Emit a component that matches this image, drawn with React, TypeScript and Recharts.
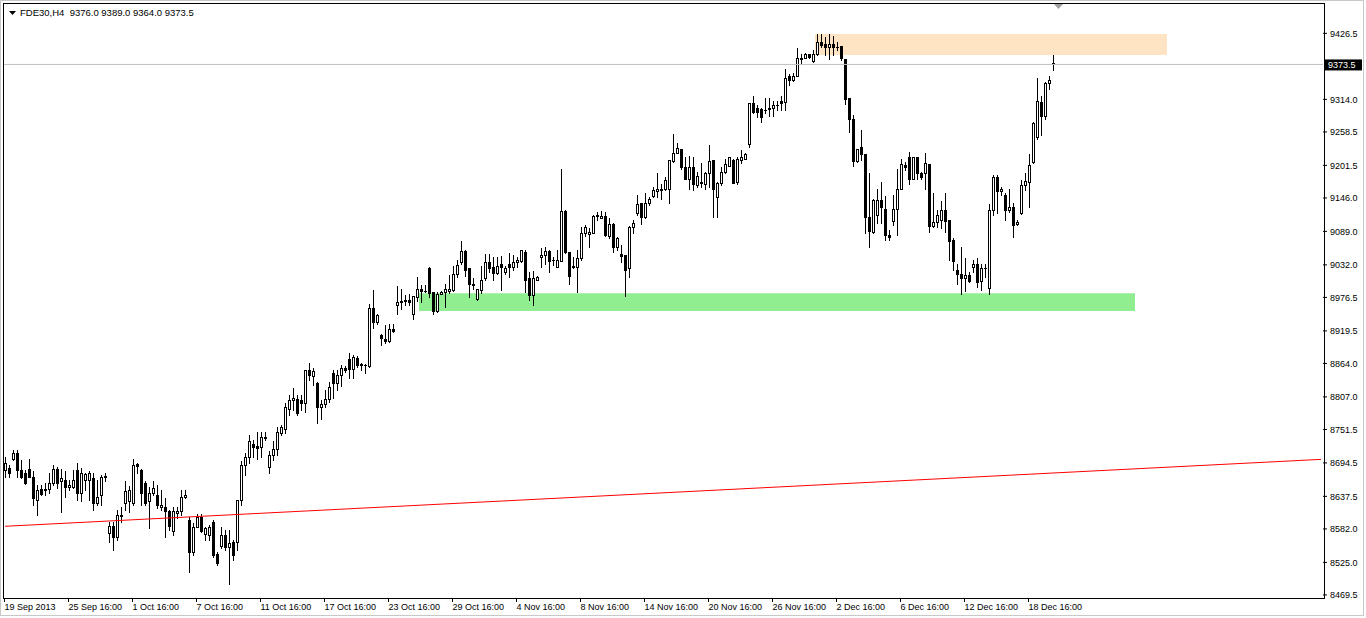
import React from "react";
import {
  ComposedChart,
  Bar,
  Line,
  XAxis,
  YAxis,
  ReferenceArea,
  ReferenceLine,
} from "recharts";

const FONT = "'Liberation Sans', Arial, sans-serif";
const symbol = "FDE30,H4";

// H4 candles, 19 Sep 2013 16:00 .. 20 Dec 2013 08:00
const open = [
  8682, 8685, 8702, 8711, 8683, 8677, 8684, 8671, 8631, 8650,
  8649, 8650, 8660, 8684, 8664, 8665, 8653, 8654, 8682, 8643,
  8665, 8666, 8668, 8626, 8640, 8671, 8575, 8587, 8568, 8604,
  8626, 8630, 8626, 8693, 8683, 8660, 8629, 8643, 8640, 8619,
  8620, 8612, 8579, 8609, 8612, 8636, 8597, 8542, 8586, 8602,
  8573, 8572, 8594, 8540, 8553, 8572, 8552, 8560, 8560, 8631,
  8691, 8704, 8727, 8723, 8722, 8737, 8688, 8708, 8719, 8746,
  8752, 8787, 8802, 8803, 8802, 8796, 8853, 8843, 8830, 8789,
  8795, 8803, 8847, 8830, 8844, 8857, 8871, 8854, 8874, 8863,
  8862, 8860, 8958, 8935, 8912, 8906, 8903, 8922, 8964, 8968,
  8971, 8972, 8948, 8978, 8990, 8987, 9026, 8985, 8954, 8983,
  8986, 8988, 8989, 9017, 9037, 9056, 9026, 9000, 8973, 8989,
  9009, 9037, 9029, 9018, 9033, 9019, 9034, 9028, 9037, 9039,
  9054, 9009, 8980, 9007, 9046, 9049, 9056, 9040, 9029, 9039,
  9124, 9054, 9030, 9029, 9043, 9087, 9084, 9087, 9115, 9112,
  9115, 9081, 9101, 9063, 9050, 9049, 9026, 9096, 9120, 9137,
  9114, 9137, 9150, 9158, 9160, 9162, 9162, 9209, 9223, 9229,
  9199, 9179, 9199, 9168, 9172, 9170, 9188, 9211, 9147, 9172,
  9191, 9200, 9211, 9174, 9211, 9213, 9238, 9307, 9299, 9297,
  9296, 9297, 9300, 9304, 9312, 9310, 9354, 9347, 9354, 9383,
  9385, 9391, 9380, 9391, 9411, 9408, 9404, 9408, 9404, 9405,
  9382, 9316, 9280, 9209, 9232, 9221, 9113, 9088, 9117, 9143,
  9128, 9083, 9107, 9128, 9162, 9202, 9215, 9179, 9215, 9189,
  9189, 9204, 9098, 9105, 9108, 9125, 9108, 9075, 9023, 9016,
  9009, 9015, 9029, 9033, 9005, 9026, 8992, 9125, 9182, 9157,
  9151, 9126, 9130, 9101, 9121, 9168, 9174, 9208, 9250, 9310,
  9286, 9342, 9376,
];

const high = [
  8705, 8691, 8717, 8717, 8700, 8683, 8702, 8680, 8657, 8657,
  8660, 8677, 8691, 8688, 8684, 8680, 8665, 8682, 8694, 8685,
  8677, 8680, 8677, 8665, 8674, 8677, 8594, 8594, 8614, 8620,
  8663, 8655, 8702, 8694, 8684, 8663, 8654, 8663, 8657, 8648,
  8634, 8614, 8620, 8620, 8648, 8648, 8603, 8592, 8608, 8608,
  8586, 8589, 8597, 8543, 8585, 8581, 8581, 8563, 8632, 8697,
  8711, 8742, 8734, 8748, 8748, 8748, 8714, 8731, 8756, 8759,
  8796, 8810, 8822, 8810, 8810, 8853, 8864, 8856, 8833, 8802,
  8819, 8833, 8853, 8853, 8861, 8859, 8881, 8878, 8877, 8865,
  8863, 8966, 8989, 8949, 8915, 8929, 8931, 8931, 8996, 8990,
  8981, 8982, 8979, 9012, 8998, 8998, 9029, 8985, 8985, 8987,
  9000, 9015, 9030, 9040, 9073, 9058, 9026, 9009, 8990, 9030,
  9051, 9051, 9046, 9046, 9047, 9030, 9053, 9049, 9046, 9058,
  9057, 9020, 9022, 9013, 9060, 9062, 9058, 9045, 9057, 9195,
  9125, 9054, 9045, 9057, 9096, 9100, 9094, 9117, 9122, 9124,
  9122, 9111, 9103, 9079, 9066, 9049, 9098, 9108, 9151, 9137,
  9154, 9148, 9165, 9188, 9170, 9182, 9211, 9255, 9239, 9229,
  9216, 9217, 9215, 9191, 9205, 9191, 9236, 9211, 9174, 9199,
  9213, 9216, 9212, 9215, 9228, 9222, 9308, 9319, 9304, 9299,
  9316, 9316, 9312, 9312, 9320, 9365, 9358, 9359, 9401, 9392,
  9393, 9392, 9398, 9426, 9426, 9421, 9426, 9422, 9412, 9405,
  9382, 9316, 9287, 9230, 9262, 9221, 9188, 9145, 9162, 9174,
  9149, 9091, 9151, 9196, 9213, 9208, 9225, 9216, 9216, 9191,
  9223, 9204, 9155, 9125, 9140, 9154, 9108, 9077, 9034, 9062,
  9043, 9020, 9041, 9043, 9034, 9033, 9136, 9185, 9185, 9165,
  9154, 9161, 9137, 9108, 9177, 9189, 9221, 9276, 9350, 9319,
  9344, 9353, 9389,
];

const low = [
  8671, 8671, 8700, 8671, 8669, 8658, 8670, 8623, 8606, 8640,
  8640, 8643, 8657, 8651, 8611, 8637, 8648, 8651, 8631, 8629,
  8648, 8631, 8614, 8623, 8623, 8663, 8560, 8546, 8563, 8594,
  8614, 8611, 8623, 8677, 8623, 8623, 8583, 8640, 8617, 8614,
  8568, 8580, 8572, 8600, 8606, 8634, 8509, 8538, 8585, 8577,
  8563, 8563, 8535, 8521, 8549, 8546, 8489, 8529, 8546, 8623,
  8674, 8694, 8705, 8702, 8705, 8734, 8677, 8699, 8708, 8742,
  8745, 8776, 8785, 8776, 8785, 8782, 8836, 8827, 8762, 8770,
  8790, 8799, 8805, 8819, 8826, 8850, 8839, 8839, 8858, 8853,
  8847, 8858, 8924, 8932, 8895, 8898, 8901, 8918, 8949, 8956,
  8964, 8963, 8939, 8971, 8969, 8986, 8978, 8949, 8952, 8982,
  8961, 8984, 8988, 9012, 9034, 9013, 8977, 8990, 8972, 8984,
  9006, 9020, 9006, 9017, 8989, 9017, 9012, 9024, 9029, 9037,
  8986, 8972, 8963, 9006, 9028, 9034, 9020, 9032, 9028, 9039,
  9052, 9000, 9026, 8986, 9040, 9081, 9063, 9086, 9108, 9111,
  9081, 9077, 9054, 9057, 9037, 8979, 9012, 9086, 9117, 9102,
  9111, 9134, 9148, 9148, 9145, 9160, 9137, 9208, 9222, 9196,
  9179, 9162, 9159, 9165, 9165, 9162, 9165, 9114, 9114, 9168,
  9188, 9200, 9171, 9170, 9205, 9213, 9233, 9290, 9284, 9276,
  9290, 9286, 9286, 9296, 9296, 9296, 9338, 9346, 9353, 9375,
  9384, 9385, 9378, 9390, 9404, 9390, 9382, 9390, 9398, 9381,
  9306, 9259, 9200, 9208, 9211, 9087, 9063, 9087, 9103, 9103,
  9075, 9074, 9100, 9083, 9161, 9193, 9170, 9178, 9178, 9179,
  9162, 9088, 9097, 9097, 9094, 9088, 9040, 9023, 9000, 8982,
  8988, 9003, 9020, 8995, 8989, 9012, 8983, 9117, 9121, 9151,
  9109, 9122, 9079, 9100, 9119, 9160, 9131, 9206, 9247, 9253,
  9280, 9331, 9364,
];

const close = [
  8694, 8677, 8711, 8683, 8671, 8660, 8671, 8634, 8648, 8642,
  8650, 8660, 8684, 8661, 8668, 8654, 8657, 8665, 8643, 8677,
  8676, 8677, 8626, 8637, 8671, 8673, 8587, 8568, 8606, 8605,
  8647, 8648, 8691, 8690, 8644, 8627, 8644, 8651, 8623, 8623,
  8612, 8587, 8612, 8613, 8636, 8640, 8542, 8585, 8602, 8579,
  8583, 8585, 8538, 8524, 8572, 8552, 8558, 8538, 8631, 8691,
  8705, 8731, 8721, 8720, 8738, 8738, 8708, 8719, 8748, 8755,
  8790, 8802, 8805, 8780, 8796, 8853, 8844, 8851, 8790, 8795,
  8803, 8824, 8830, 8845, 8857, 8853, 8854, 8875, 8861, 8861,
  8861, 8958, 8935, 8946, 8908, 8903, 8922, 8920, 8969, 8971,
  8972, 8969, 8979, 8990, 8987, 8987, 8984, 8954, 8983, 8986,
  8990, 8990, 9016, 9032, 9056, 9024, 9000, 8998, 8990, 9007,
  9037, 9026, 9018, 9030, 9029, 9026, 9028, 9037, 9041, 9057,
  9006, 8980, 9009, 9012, 9048, 9056, 9039, 9040, 9040, 9124,
  9054, 9013, 9028, 9043, 9087, 9097, 9088, 9115, 9117, 9116,
  9083, 9101, 9063, 9077, 9047, 9024, 9097, 9104, 9136, 9114,
  9137, 9145, 9159, 9161, 9162, 9177, 9211, 9223, 9231, 9198,
  9179, 9199, 9170, 9183, 9173, 9188, 9209, 9161, 9172, 9191,
  9204, 9215, 9172, 9213, 9216, 9221, 9307, 9293, 9293, 9284,
  9296, 9300, 9304, 9305, 9308, 9351, 9347, 9354, 9384, 9385,
  9391, 9387, 9391, 9412, 9407, 9404, 9408, 9403, 9404, 9384,
  9314, 9280, 9209, 9229, 9221, 9113, 9090, 9142, 9143, 9130,
  9083, 9079, 9128, 9162, 9204, 9199, 9179, 9215, 9189, 9181,
  9205, 9098, 9105, 9117, 9125, 9107, 9073, 9039, 9016, 9009,
  9015, 9005, 9033, 9003, 9026, 9026, 9125, 9182, 9157, 9161,
  9126, 9130, 9100, 9105, 9168, 9175, 9202, 9273, 9312, 9286,
  9342, 9347, 9373.5,
];

// bottom labels, one every 16 bars
const timeLabels = [
  "19 Sep 2013", "25 Sep 16:00", "1 Oct 16:00", "7 Oct 16:00", "11 Oct 16:00",
  "17 Oct 16:00", "23 Oct 16:00", "29 Oct 16:00", "4 Nov 16:00", "8 Nov 16:00",
  "14 Nov 16:00", "20 Nov 16:00", "26 Nov 16:00", "2 Dec 16:00", "6 Dec 16:00",
  "12 Dec 16:00", "18 Dec 16:00",
];
const LABEL_STEP = 16;

const priceTicks = [
  9426.5, 9314.0, 9258.5, 9201.5, 9146.0, 9089.0, 9032.0, 8976.5, 8919.5,
  8864.0, 8807.0, 8751.5, 8694.5, 8637.5, 8582.0, 8525.0, 8469.5,
];

// drawn objects
const supplyBars = [203, 290];
const supplyPrices = [9389.5, 9425.5];
const demandBars = [104, 282];
const demandPrices = [8953.5, 8983.5];
const trendPrices = [8586.5, 8700.5]; // at first and last slot

const SLOTS = 330; // bars that fit in the window, incl. right shift
const Y_MIN = 8466;
const Y_MAX = 9476.5;

const last = close.length - 1;

const rows = Array.from({ length: SLOTS }, (_, i) => {
  const has = i <= last;
  return {
    i,
    range: has ? [low[i], high[i]] : null,
    o: has ? open[i] : null,
    h: has ? high[i] : null,
    l: has ? low[i] : null,
    c: has ? close[i] : null,
    trend: i === 0 ? trendPrices[0] : i === SLOTS - 1 ? trendPrices[1] : null,
  };
});

const Candle = (props: any) => {
  const { x, y, width, height, payload } = props;
  if (!payload || payload.range == null) return null;
  const { o, h, l, c } = payload;
  const top = Math.min(y, y + height);
  const span = Math.abs(height);
  const k = h === l ? 0 : span / (h - l);
  const yOf = (v: number) => Math.round(top + (h - v) * k);
  const cx = Math.floor(x + width / 2);
  const yo = yOf(o);
  const yc = yOf(c);
  const bTop = Math.min(yo, yc);
  const bBot = Math.max(yo, yc);
  return (
    <g shapeRendering="crispEdges">
      <line
        x1={cx + 0.5}
        x2={cx + 0.5}
        y1={yOf(h)}
        y2={yOf(l) + 1}
        stroke="#000"
      />
      {bBot - bTop < 1 ? (
        <line x1={cx - 1} x2={cx + 2} y1={bTop + 0.5} y2={bTop + 0.5} stroke="#000" />
      ) : (
        <rect
          x={cx - 0.5}
          y={bTop + 0.5}
          width={2}
          height={bBot - bTop}
          fill={c > o ? "#fff" : "#000"}
          stroke="#000"
        />
      )}
    </g>
  );
};

const TimeTick = (props: any) => {
  const { x, y, payload } = props;
  const label = timeLabels[payload.value / LABEL_STEP];
  if (!label) return <g />;
  const tx = Math.floor(x) - 0.5;
  return (
    <g>
      <line x1={tx} x2={tx} y1={y + 1} y2={y + 5} stroke="#000" shapeRendering="crispEdges" />
      <text x={tx} y={y + 13} fontSize={9} fontFamily={FONT} fill="#000">
        {label}
      </text>
    </g>
  );
};

const PriceTag = (props: any) => {
  const vb = props.viewBox || {};
  const x = vb.x + vb.width + 2;
  const y = vb.y;
  return (
    <g>
      <rect x={x} y={y - 5} width={37} height={11} fill="#000" />
      <text x={x + 3} y={y + 3.5} fontSize={9} fontFamily={FONT} fill="#fff">
        {close[last].toFixed(1)}
      </text>
    </g>
  );
};

export default function App() {
  const header = `${symbol}  ${open[last].toFixed(1)} ${high[last].toFixed(1)} ${low[last].toFixed(1)} ${close[last].toFixed(1)}`;
  return (
    <div
      style={{
        position: "absolute",
        left: 0,
        top: 0,
        width: 1366,
        height: 618,
        background: "#fff",
        overflow: "hidden",
      }}
    >
      <ComposedChart
        width={1366}
        height={618}
        data={rows}
        margin={{ top: 4, right: 0, bottom: 0, left: 3 }}
        barCategoryGap={0}
        barGap={0}
      >
        <XAxis
          dataKey="i"
          type="category"
          interval={LABEL_STEP - 1}
          height={21}
          tickSize={0}
          tickMargin={0}
          axisLine={false}
          tickLine={false}
          tick={<TimeTick />}
        />
        <YAxis
          orientation="right"
          type="number"
          domain={[Y_MIN, Y_MAX]}
          allowDataOverflow
          ticks={priceTicks}
          interval={0}
          width={43}
          axisLine={false}
          tickLine={{ stroke: "#000" }}
          tickSize={4}
          tickMargin={3}
          tickFormatter={(v: number) => v.toFixed(1)}
          tick={{ fontSize: 9, fill: "#000", fontFamily: FONT }}
        />
        <ReferenceArea
          x1={supplyBars[0]}
          x2={supplyBars[1]}
          y1={supplyPrices[0]}
          y2={supplyPrices[1]}
          fill="#FFE4C4"
          fillOpacity={1}
          stroke="none"
        />
        <ReferenceArea
          x1={demandBars[0]}
          x2={demandBars[1]}
          y1={demandPrices[0]}
          y2={demandPrices[1]}
          fill="#90EE90"
          fillOpacity={1}
          stroke="none"
        />
        <ReferenceLine
          y={close[last]}
          stroke="#C0C0C0"
          strokeWidth={1}
          label={<PriceTag />}
        />
        <Bar
          dataKey="range"
          shape={<Candle />}
          isAnimationActive={false}
        />
        <Line
          dataKey="trend"
          type="linear"
          stroke="#FF0000"
          strokeWidth={1}
          dot={false}
          activeDot={false}
          connectNulls
          isAnimationActive={false}
        />
      </ComposedChart>

      {/* chart frame */}
      <div
        style={{
          position: "absolute",
          left: 3,
          top: 3,
          width: 1322,
          height: 596,
          border: "1px solid #000",
          boxSizing: "border-box",
          pointerEvents: "none",
        }}
      />
      {/* window border */}
      <div
        style={{
          position: "absolute",
          left: 0,
          top: 0,
          width: 1364,
          height: 616,
          border: "1px solid #C8C8C8",
          boxSizing: "border-box",
          pointerEvents: "none",
        }}
      />
      <svg
        width={1366}
        height={20}
        style={{ position: "absolute", left: 0, top: 0, pointerEvents: "none" }}
      >
        <polygon points="9,11 16,11 12.5,15" fill="#000" />
        <polygon points="1054,4 1063,4 1058.5,9" fill="#A0A0A0" />
      </svg>
      <div
        style={{
          position: "absolute",
          left: 20,
          top: 7,
          fontFamily: FONT,
          fontSize: 9.5,
          lineHeight: "11px",
          whiteSpace: "pre",
          color: "#000",
        }}
      >
        {header}
      </div>
    </div>
  );
}
